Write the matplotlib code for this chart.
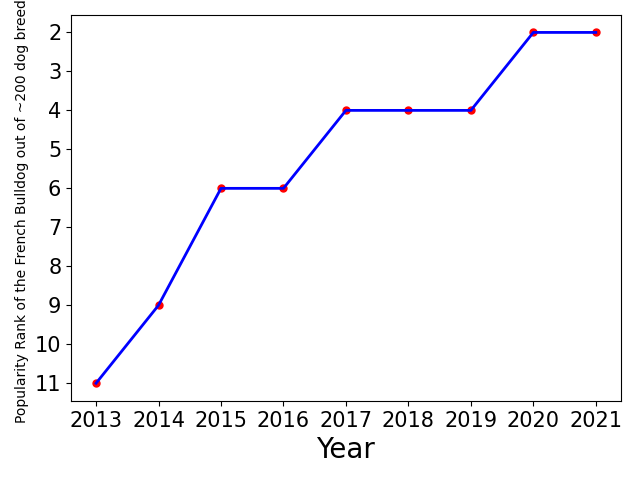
import matplotlib
matplotlib.use("Agg")
import matplotlib.pyplot as plt

# -----------------------------
# Data
# -----------------------------
years = [2013, 2014, 2015, 2016, 2017, 2018, 2019, 2020, 2021]
ranks = [11, 9, 6, 6, 4, 4, 4, 2, 2]

# -----------------------------
# Plot
# -----------------------------
fig = plt.figure(figsize=(6.4, 4.8), dpi=100)
ax = fig.add_axes([0.111, 0.165, 0.859, 0.804])

ax.scatter(years, ranks, color="red", s=25, zorder=2)
ax.plot(years, ranks, color="blue", linewidth=2, zorder=3)

ax.invert_yaxis()
ax.set_xticks(years)
ax.set_yticks(range(2, 12))
ax.tick_params(axis="both", labelsize=15)

ax.set_xlabel("Year", fontsize=20)
ax.set_ylabel("Popularity Rank of the French Bulldog out of ~200 dog breeds", fontsize=10)

fig.savefig("out.png")
